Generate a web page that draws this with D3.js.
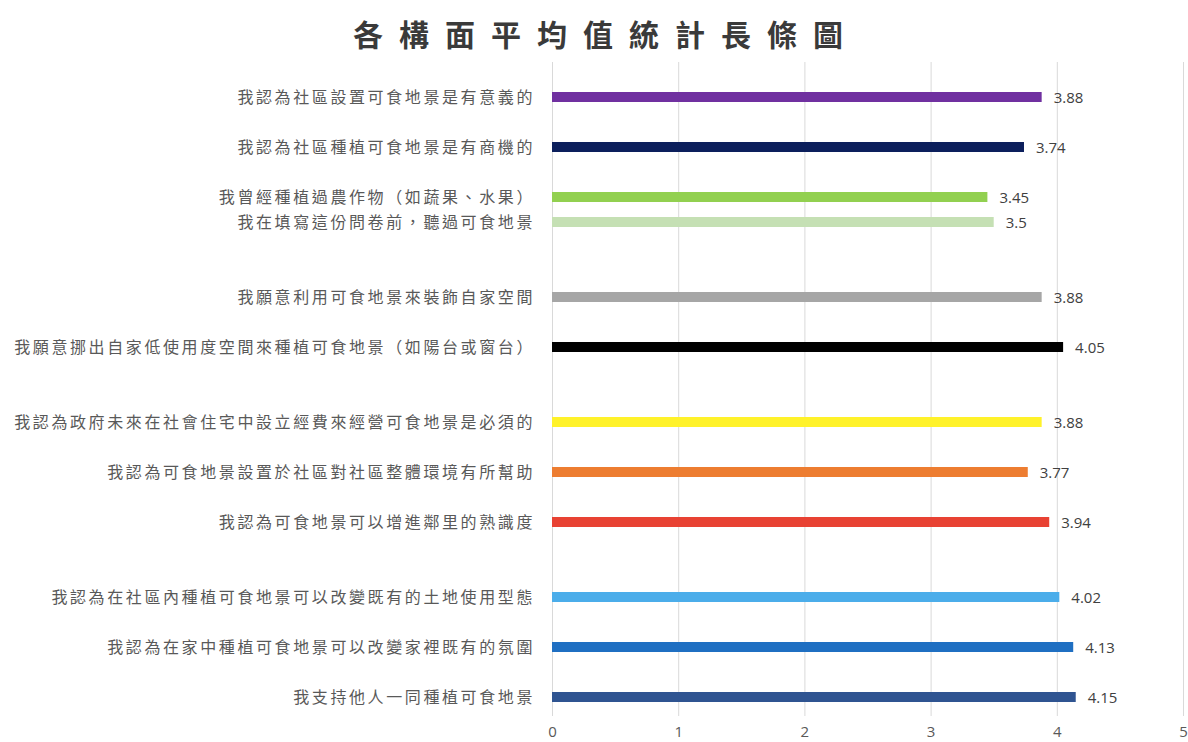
<!DOCTYPE html>
<html>
<head>
<meta charset="utf-8">
<script src="https://cdn.jsdelivr.net/npm/d3@7"></script>
<style>
	body { margin: 0; background: #fff; }
	svg { display: block; }
</style>
</head>
<body>
<div class="bar-chart"></div>
<script>
// rows of the chart, top to bottom; "" marks an empty row
var labels = [
	"我認為社區設置可食地景是有意義的", "",
	"我認為社區種植可食地景是有商機的", "",
	"我曾經種植過農作物（如蔬果、水果）",
	"我在填寫這份問卷前，聽過可食地景", "", "",
	"我願意利用可食地景來裝飾自家空間", "",
	"我願意挪出自家低使用度空間來種植可食地景（如陽台或窗台）", "", "",
	"我認為政府未來在社會住宅中設立經費來經營可食地景是必須的", "",
	"我認為可食地景設置於社區對社區整體環境有所幫助", "",
	"我認為可食地景可以增進鄰里的熟識度", "", "",
	"我認為在社區內種植可食地景可以改變既有的土地使用型態", "",
	"我認為在家中種植可食地景可以改變家裡既有的氛圍", "",
	"我支持他人一同種植可食地景"
];

var values = [
	3.88, null,
	3.74, null,
	3.45,
	3.5, null, null,
	3.88, null,
	4.05, null, null,
	3.88, null,
	3.77, null,
	3.94, null, null,
	4.02, null,
	4.13, null,
	4.15
];

var colors = [
	"#7030a0", null,
	"#0c1f5c", null,
	"#92d050",
	"#c5e0b4", null, null,
	"#a6a6a6", null,
	"#000000", null, null,
	"#fff22a", null,
	"#ed7d31", null,
	"#e84233", null, null,
	"#4badea", null,
	"#1f6fc2", null,
	"#2f5491"
];

var xTicks = [0, 1, 2, 3, 4, 5];

var title = "各構面平均值統計長條圖";

var W = 1188, H = 742;

var svg = d3.select(".bar-chart").append("svg")
	.attr("width", W)
	.attr("height", H);

var x = d3.scaleLinear().domain([0, 5]).range([552, 1183]);
var y = d3.scaleBand()
	.domain(d3.range(labels.length))
	.range([84.5, 84.5 + 25 * labels.length]);

var rows = labels.map(function (d, i) {
	return { label: d, value: values[i], color: colors[i], i: i };
}).filter(function (d) { return d.value != null; });

// title
svg.append("text")
	.attr("x", 606)
	.attr("y", 46)
	.attr("text-anchor", "middle")
	.style("font-family", "'Noto Sans CJK TC', sans-serif")
	.style("font-size", "30px")
	.style("font-weight", 600)
	.style("letter-spacing", "16px")
	.style("fill", "#3a3a3a")
	.text(title);

// gridlines
svg.append("g")
	.selectAll("line")
	.data(xTicks)
	.enter().append("line")
	.attr("x1", function (d) { return x(d) + 0.5; })
	.attr("x2", function (d) { return x(d) + 0.5; })
	.attr("y1", 62)
	.attr("y2", 716)
	.style("stroke", "#d9d9d9")
	.style("stroke-width", 1);

// x axis labels
var xAxis = d3.axisBottom(x).tickValues(xTicks).tickFormat(d3.format("d")).tickSize(0).tickPadding(0);
var gx = svg.append("g")
	.attr("transform", "translate(0,726)")
	.call(xAxis);
gx.select(".domain").remove();
gx.selectAll("text")
	.style("font-family", "'Open Sans', sans-serif")
	.style("font-size", "15px")
	.style("fill", "#595959");

// bars
var barH = 10;
svg.append("g")
	.selectAll("rect")
	.data(rows)
	.enter().append("rect")
	.attr("x", x(0))
	.attr("y", function (d) { return y(d.i) + y.bandwidth() / 2 - barH / 2; })
	.attr("width", function (d) { return x(d.value) - x(0); })
	.attr("height", barH)
	.style("fill", function (d) { return d.color; });

// value labels
svg.append("g")
	.selectAll("text")
	.data(rows)
	.enter().append("text")
	.attr("x", function (d) { return x(d.value) + 12; })
	.attr("y", function (d) { return y(d.i) + y.bandwidth() / 2 + 6; })
	.style("font-family", "'Open Sans', sans-serif")
	.style("font-size", "15px")
	.style("fill", "#404040")
	.text(function (d) { return d.value; });

// category labels
svg.append("g")
	.selectAll("text")
	.data(rows)
	.enter().append("text")
	.attr("x", 535)
	.attr("y", function (d) { return y(d.i) + y.bandwidth() / 2 + 6; })
	.attr("text-anchor", "end")
	.style("font-family", "'Noto Sans CJK TC', sans-serif")
	.style("font-size", "16px")
	.style("letter-spacing", "2.6px")
	.style("fill", "#595959")
	.text(function (d) { return d.label; });
</script>
</body>
</html>
